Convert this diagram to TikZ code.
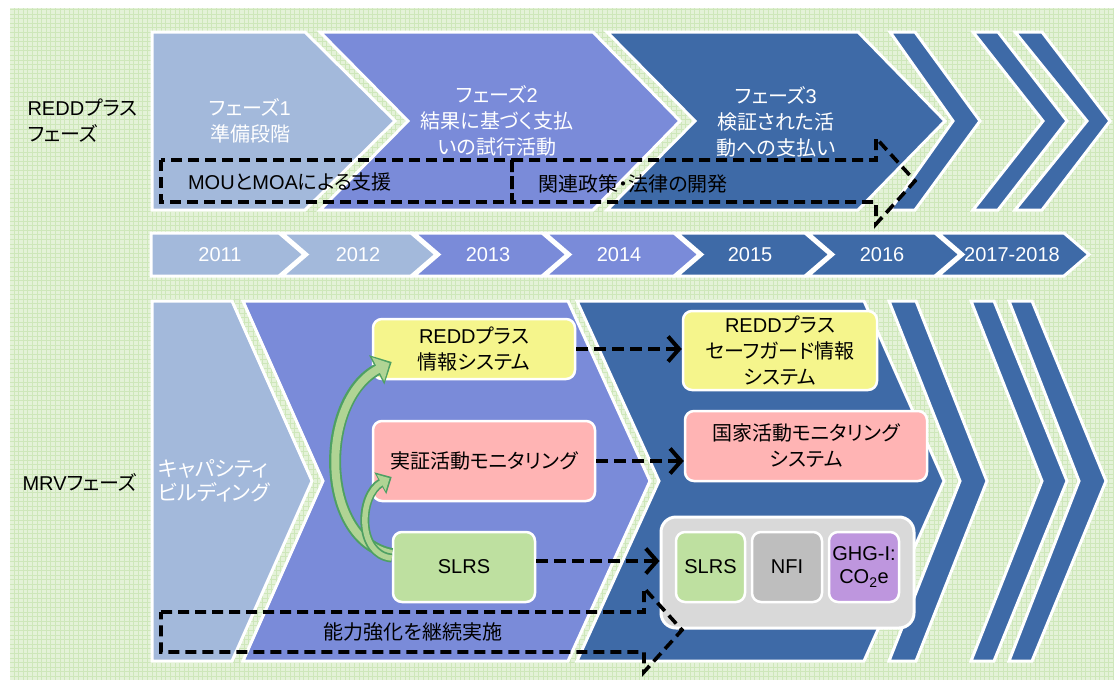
\documentclass[tikz,border=0pt]{standalone}
\usepackage{fontspec}
\setmainfont{Noto Sans CJK JP}[RawFeature=+palt]
\newfontfamily\lat{Liberation Sans}
\usetikzlibrary{arrows.meta,calc}
\definecolor{bgGreen}{RGB}{228,242,216}
\definecolor{gridGreen}{RGB}{206,231,186}
\definecolor{phA}{RGB}{163,185,219}
\definecolor{phB}{RGB}{122,139,217}
\definecolor{phC}{RGB}{62,106,167}
\definecolor{boxYellow}{RGB}{245,245,140}
\definecolor{boxPink}{RGB}{255,180,180}
\definecolor{boxGreen}{RGB}{190,224,160}
\definecolor{boxGray}{RGB}{190,190,190}
\definecolor{boxPurple}{RGB}{190,150,222}
\definecolor{boxGroup}{RGB}{217,217,217}
\definecolor{growEdge}{RGB}{78,160,99}
\definecolor{growFill}{RGB}{176,212,148}
\tikzset{
  chev/.style={draw=white, line width=3pt, line join=miter},
  wlabel/.style={text=white, align=center, font=\fontsize{20}{26}\selectfont},
  blabel/.style={text=black, align=center, font=\fontsize{20}{26}\selectfont},
  infobox/.style={draw=white, line width=2.5pt, rounded corners=9pt, blabel, inner sep=0pt},
  outline/.style={draw=black, line width=3.6pt, dash pattern=on 11pt off 6pt},
  linkarrow/.style={draw=black, line width=4pt, dash pattern=on 12pt off 6pt,
    -{Straight Barb[length=11pt,width=25pt]}},
}
\begin{document}
\begin{tikzpicture}[x=1pt,y=-1pt]
\useasboundingbox (0,0) rectangle (1114,680);
\fill[bgGreen] (10,8) rectangle (1114,680);
\draw[gridGreen, line width=0.5pt, step=4.6pt] (10,680) grid (1114,8);

% REDD+ phases
\draw[chev, fill=phA] (152,32) -- (305,32) -- (395,121) -- (305,210) -- (152,210) -- cycle;
\draw[chev, fill=phB] (320,32) -- (593,32) -- (680,121) -- (593,210) -- (320,210) -- (408,121) -- cycle;
\draw[chev, fill=phC] (607,32) -- (858,32) -- (945,121) -- (858,210) -- (607,210) -- (695,121) -- cycle;
\foreach \a/\b/\c/\d in {890/915/980/953, 973/998/1067/1043, 1015/1042/1110/1087}
  \draw[chev, fill=phC] (\a,32) -- (\b,32) -- (\c,121) -- (\b,210) -- (\a,210) -- (\d,121) -- cycle;

\node[wlabel] (txtPh1) at (250,121) {フェーズ{\lat 1}\\準備段階};
\node[wlabel] (txtPh2) at (497,121) {フェーズ{\lat 2}\\結果に基づく支払\\いの試行活動};
\node[wlabel] (txtPh3) at (776,122) {フェーズ{\lat 3}\\検証された活\\動への支払い};

\draw[outline] (161,160) rectangle (512,202);
\draw[outline] (512,160) -- (876,160) -- (876,138) -- (915,181) -- (876,224) -- (876,202) -- (512,202) -- cycle;
\node[blabel] (txtMou) at (290,182) {{\lat MOU}と{\lat MOA}による支援};
\node[blabel] (txtLaw) at (633,184) {関連政策・法律の開発};

% years
\foreach \lft/\ntc/\rgt/\clr/\xt/\yr [count=\k] in {151/0/279/phA/220/2011, 282/25/411/phA/358/2012,
    414/25/542/phB/488/2013, 545/25/674/phB/619/2014, 677/25/805/phC/750/2015,
    808/25/935/phC/882/2016, 938/25/1064/phC/1012/2017-2018}
{
  \draw[chev, fill=\clr] (\lft,233) -- (\rgt,233) -- ({\rgt+25},254.5) -- (\rgt,276) -- (\lft,276) -- ({\lft+\ntc},254.5) -- cycle;
  \node[wlabel, font=\lat\fontsize{20}{24}\selectfont] (yr\k) at (\xt,254.5) {\yr};
}

% MRV phases
\draw[chev, fill=phA] (152,301) -- (232,301) -- (312,481) -- (232,661) -- (152,661) -- cycle;
\draw[chev, fill=phB] (243,301) -- (568,301) -- (650,481) -- (568,661) -- (243,661) -- (323,481) -- cycle;
\draw[chev, fill=phC] (577,301) -- (864,301) -- (944,481) -- (864,661) -- (577,661) -- (659,481) -- cycle;
\foreach \a/\b/\c/\d in {889/916/987/960, 971/994/1067/1042, 1009/1032/1106/1079}
  \draw[chev, fill=phC] (\a,301) -- (\b,301) -- (\c,481) -- (\b,661) -- (\a,661) -- (\d,481) -- cycle;

\node[wlabel, anchor=west, align=left, font=\fontsize{21}{24}\selectfont] (txtCap) at (155,481) {キャパシティ\\ビルディング};

\node[infobox, fill=boxYellow, minimum width=202pt, minimum height=60pt] (infoA) at (474,349) {{\lat REDD}プラス\\情報システム};
\node[infobox, fill=boxPink, minimum width=222pt, minimum height=80pt] (monA) at (484,461) {実証活動モニタリング};
\node[infobox, fill=boxGreen, minimum width=142pt, minimum height=70pt] (slrsA) at (464,567) {\lat SLRS};

\node[infobox, fill=boxYellow, minimum width=194pt, minimum height=79pt] (infoB) at (780,350.5) {{\lat REDD}プラス\\セーフガード情報\\システム};
\node[infobox, fill=boxPink, minimum width=242pt, minimum height=70pt] (monB) at (806,446) {国家活動モニタリング\\システム};
\node[infobox, draw=white, line width=3pt, rounded corners=15pt, fill=boxGroup, minimum width=253pt, minimum height=111pt] (group) at (787.5,572.5) {};
\node[infobox, fill=boxGreen, minimum width=69pt, minimum height=70pt] (slrsB) at (710.5,567) {\lat SLRS};
\node[infobox, fill=boxGray, minimum width=70pt, minimum height=70pt] (nfi) at (787,567) {\lat NFI};
\node[infobox, fill=boxPurple, minimum width=70pt, minimum height=70pt, font=\lat\fontsize{20}{23}\selectfont] (ghg) at (864,567) {GHG-I:\\CO\textsubscript{2}e};

\draw[linkarrow] (infoA.east) -- (infoA.east -| infoB.west);
\draw[linkarrow] (monA.east) -- (monA.east -| monB.west);
\draw[linkarrow] ([shift={(0,-6)}]slrsA.east) -- ([shift={(0,-6)}]slrsA.east -| group.west);

% growth arrows
\draw[growEdge, line width=12pt, -{Triangle[length=17pt,width=32pt]}]
  ([shift={(0,-13)}]slrsA.west) .. controls +(-73,-14) and +(-73,38) .. ([shift={(20,13)}]infoA.west);
\draw[growFill, line width=8pt, shorten >=2.5pt, -{Triangle[length=13pt,width=26pt]}]
  ([shift={(0,-13)}]slrsA.west) .. controls +(-73,-14) and +(-73,38) .. ([shift={(20,13)}]infoA.west);
\draw[growEdge, line width=9pt, -{Triangle[length=13pt,width=24pt]}]
  ([shift={(0,-9)}]slrsA.west) .. controls +(-35,-3) and +(-33,18) .. ([shift={(20,16)}]monA.west);
\draw[growFill, line width=5.5pt, shorten >=2.5pt, -{Triangle[length=9.5pt,width=18pt]}]
  ([shift={(0,-9)}]slrsA.west) .. controls +(-35,-3) and +(-33,18) .. ([shift={(20,16)}]monA.west);

\draw[outline] (161,612) -- (644,612) -- (644,588) -- (682,630) -- (644,672) -- (644,652) -- (161,652) -- cycle;
\node[blabel] (txtKeep) at (413,632) {能力強化を継続実施};

% row labels
\node[blabel, anchor=west, align=left] (lblRedd) at (24,121) {{\lat REDD}プラス\\フェーズ};
\node[blabel, anchor=west] (lblMrv) at (19,482) {{\lat MRV}フェーズ};
\end{tikzpicture}
\end{document}
